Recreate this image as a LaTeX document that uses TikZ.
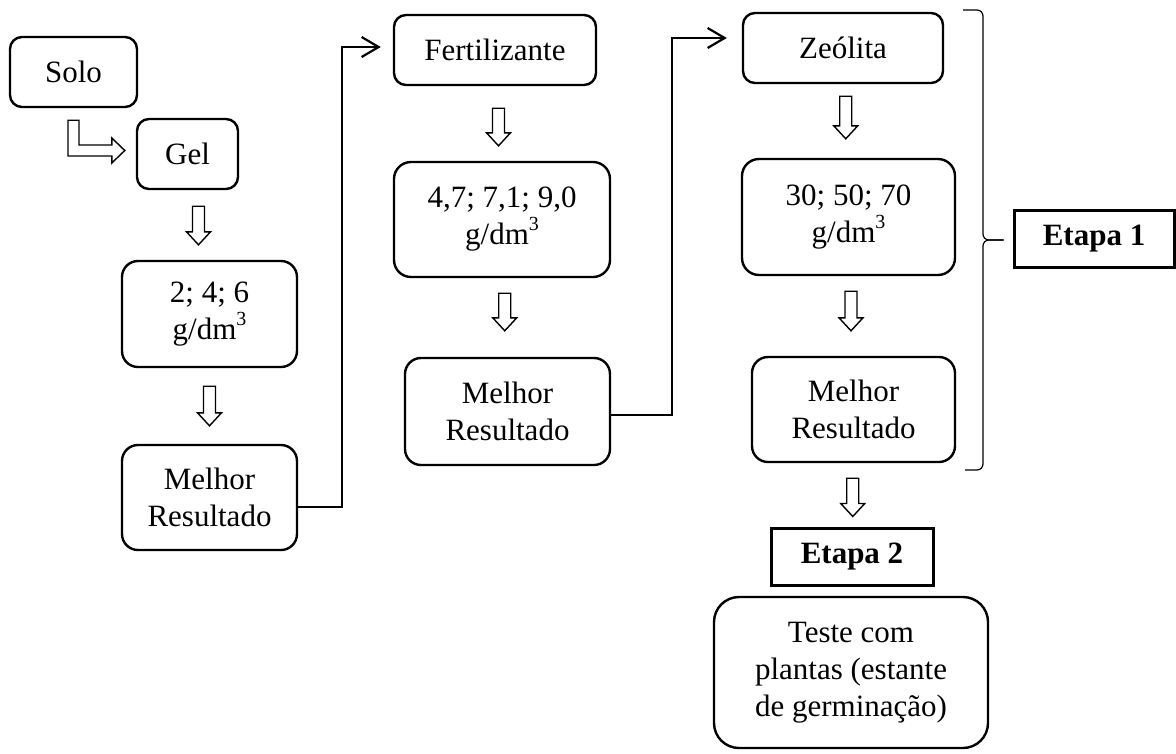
\documentclass[tikz,border=0pt]{standalone}
\usepackage{fontspec}
\setmainfont{Liberation Serif}
\usetikzlibrary{calc,arrows.meta}

% expoente 3 das unidades
\newcommand{\cubo}{\raisebox{14pt}{\fontsize{20}{20}\selectfont 3}}

% seta vazada para baixo entre dois nos (folgas em cima e em baixo)
\newcommand{\hdown}[4]{%
  \draw[hollow] let \p1=(#1.south), \p2=(#2.north), \p3=($(#1.south)!0.5!(#2.north)$) in
    (\x3-6pt,\y1-#3pt) -- (\x3+6pt,\y1-#3pt) -- (\x3+6pt,\y2+#4pt+13pt)
    -- (\x3+12pt,\y2+#4pt+13pt) -- (\x3,\y2+#4pt) -- (\x3-12pt,\y2+#4pt+13pt)
    -- (\x3-6pt,\y2+#4pt+13pt) -- cycle;}

\begin{document}
\begin{tikzpicture}[x=1pt,y=-1pt,
    box/.style={draw, line width=2.4pt, rounded corners=12pt, align=center, inner sep=0pt,
      font=\fontsize{31}{37}\selectfont},
    etapa/.style={draw, line width=3pt, align=center, inner sep=0pt,
      minimum width=162pt, minimum height=57pt, font=\fontsize{31}{37}\selectfont\bfseries},
    link/.style={line width=2.2pt, -{Straight Barb[length=17pt,width=20pt]}},
    hollow/.style={draw, line width=1.4pt, line join=miter},
    chave/.style={line width=1.2pt, rounded corners=6pt}]
  \useasboundingbox (0,0) rectangle (1176,753);

  % Coluna do gel
  \node[box, minimum width=127pt, minimum height=70pt] (solo) at (73.5,72) {Solo};
  \node[box, minimum width=101pt, minimum height=70pt] (gel) at (187.5,154) {Gel};
  \node[box, rounded corners=16pt, minimum width=175pt, minimum height=106pt] (c1) at (209.5,314)
    {2; 4; 6\\g/dm\cubo};
  \node[box, rounded corners=16pt, minimum width=175pt, minimum height=105pt] (mr1) at (209.5,497.5)
    {Melhor\\Resultado};

  % Coluna do fertilizante
  \node[box, minimum width=202pt, minimum height=70pt] (fert) at (495,50) {Fertilizante};
  \node[box, rounded corners=17pt, minimum width=216pt, minimum height=115pt] (c2) at (502,219.5)
    {4,7; 7,1; 9,0\\g/dm\cubo};
  \node[box, rounded corners=16pt, minimum width=205pt, minimum height=107pt] (mr2) at (507.5,411.5)
    {Melhor\\Resultado};

  % Coluna da zeolita
  \node[box, minimum width=200pt, minimum height=70pt] (zeo) at (843,48) {Zeólita};
  \node[box, rounded corners=17pt, minimum width=213pt, minimum height=116pt] (c3) at (848.5,217)
    {30; 50; 70\\g/dm\cubo};
  \node[box, rounded corners=16pt, minimum width=203pt, minimum height=105pt] (mr3) at (853.5,409.5)
    {Melhor\\Resultado};

  % Etapas
  \node[etapa, minimum width=160pt] (e1) at (1094,238.5) {Etapa 1};
  \node[etapa] (e2) at (852,556.5) {Etapa 2};
  \node[box, rounded corners=25pt, minimum width=274pt, minimum height=151pt] (teste) at (851,672.5)
    {Teste com\\plantas (estante\\de germinação)};

  % seta dobrada Solo -> Gel
  \draw[hollow] let \p1=(solo.south), \p2=(gel.west) in
    (\x1-5.5pt,\y1-12pt) -- (\x1+5.5pt,\y1-12pt) -- (\x1+5.5pt,\y2+9pt)
    -- (\x2-24pt,\y2+9pt) -- (\x2-24pt,\y2+16pt) -- (\x2-11pt,\y2+3.5pt)
    -- (\x2-24pt,\y2-9pt) -- (\x2-24pt,\y2-2pt) -- (\x1-5.5pt,\y2-2pt) -- cycle;

  % setas vazadas
  \hdown{gel}{c1}{16}{15}
  \hdown{c1}{mr1}{18}{18}
  \hdown{fert}{c2}{22}{15}
  \hdown{c2}{mr2}{15}{26}
  \hdown{zeo}{c3}{12}{19}
  \hdown{c3}{mr3}{15}{25}
  \hdown{mr3}{e2}{15}{10}

  % ligacoes entre colunas
  \draw[link] ([yshift=-9.5pt]mr1.east) -- ++(44,0) |- ([xshift=-12pt,yshift=3pt]fert.west);
  \draw[link] ([yshift=-3.5pt]mr2.east) -- ++(61,0) |- ([xshift=-15pt,yshift=10pt]zeo.west);

  % chave da etapa 1
  \coordinate (ctop) at (963,10);
  \coordinate (cbot) at (965,470);
  \coordinate (cponta) at (983,240);
  \draw[chave] (ctop) -| (cponta) -- ([xshift=-9pt]e1.west |- cponta);
  \draw[chave] (cbot) -| (cponta) -- ([xshift=-9pt]e1.west |- cponta);
\end{tikzpicture}
\end{document}
